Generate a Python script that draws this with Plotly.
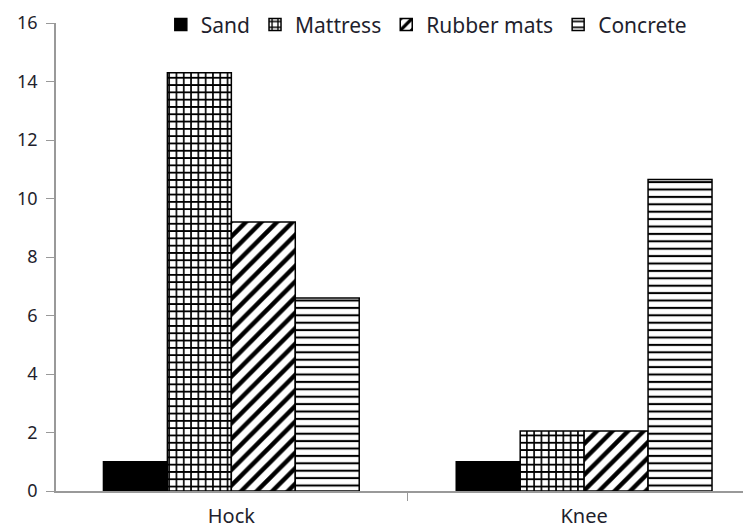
import plotly.graph_objects as go

categories = ["Hock", "Knee"]
series_names = ["Sand", "Mattress", "Rubber mats", "Concrete"]
sand = [1.0, 1.0]
mattress = [14.3, 2.05]
rubber_mats = [9.2, 2.05]
concrete = [6.6, 10.65]
y_ticks = [0, 2, 4, 6, 8, 10, 12, 14, 16]

values = [sand, mattress, rubber_mats, concrete]
patterns = [
    dict(shape=""),
    dict(shape="+", size=7.3, solidity=0.4, fgcolor="black", bgcolor="white", fillmode="replace"),
    dict(shape="/", size=11, solidity=0.4, fgcolor="black", bgcolor="white", fillmode="replace"),
    dict(shape="-", size=7.4, solidity=0.28, fgcolor="black", bgcolor="white", fillmode="replace"),
]
colors = ["black", "white", "white", "white"]

fig = go.Figure()
for name, vals, pat, col in zip(series_names, values, patterns, colors):
    fig.add_trace(go.Bar(
        x=categories, y=vals, name=name,
        marker=dict(color=col, pattern=pat, line=dict(color="black", width=1.5)),
    ))

# page body has an 8px margin; figure sized/margined to compensate
fig.update_layout(
    width=743, height=524,
    margin=dict(l=48, r=0, t=15, b=41, autoexpand=False),
    plot_bgcolor="white", paper_bgcolor="white",
    barmode="group", bargap=0.275, bargroupgap=0,
    font=dict(family="Noto Sans", size=18, color="#1f1f2e"),
    legend=dict(orientation="h", xref="container", yref="container",
                x=0.563, xanchor="center", y=0.968, yanchor="middle",
                font=dict(size=21), itemwidth=30, traceorder="normal"),
    showlegend=True,
)
fig.update_xaxes(
    range=[-0.497, 1.473], showline=True, linecolor="#999999", linewidth=1.5,
    ticks="outside", tickson="boundaries", ticklen=8, tickcolor="#999999",
    tickfont=dict(size=20), ticklabelstandoff=6,
    showgrid=False, zeroline=False, automargin=False,
)
fig.update_yaxes(
    range=[0, 16], tickvals=y_ticks, showline=True, linecolor="#999999", linewidth=1.5,
    ticks="outside", ticklen=8, tickcolor="#999999", showgrid=False, zeroline=False,
    tickfont=dict(size=18), ticklabelstandoff=5, automargin=False,
)
fig.write_html("out.html")
